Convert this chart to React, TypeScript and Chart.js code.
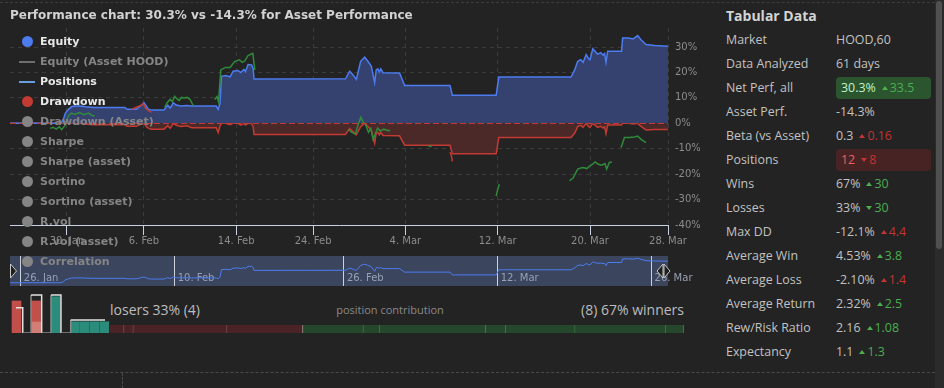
import React, { useEffect, useRef } from "react";
import { Chart, registerables } from "chart.js";

Chart.register(...registerables);

// ---------------- data ----------------
const TITLE = "Performance chart: 30.3% vs -14.3% for Asset Performance";

// x values are trading-day indexes (0 = 27 Jan, 1 unit = one session)
const X_MIN = -0.705;
const X_MAX = 42.07;
const X_TICK_POS = [3, 8, 14, 19, 25, 31, 37, 42.07];
const X_TICK_LABELS = ["30. Jan", "6. Feb", "14. Feb", "24. Feb", "4. Mar", "12. Mar", "20. Mar", "28. Mar"];
const Y_TICKS = [-40, -30, -20, -10, 0, 10, 20, 30];
const Y_MIN = -40;
const Y_MAX = 37.5;

const NAV_TICK_POS = [0, 10, 21, 31, 41];
const NAV_TICK_LABELS = ["26. Jan", "10. Feb", "26. Feb", "12. Mar", "26. Mar"];
const NAV_Y_MIN = -4.6;
const NAV_Y_MAX = 37.6;

// [trading-day index, %]
const EQUITY: [number, number][] = [
  [-0.705, 0], [2.6, 0], [2.76, 1.5], [2.9, 4.0], [3.09, 5.5], [3.3, 6.5], [3.5, 6.8], [3.84, 6.8],
  [4.2, 6.5], [4.71, 6.2], [6.77, 6.2], [6.9, 5.5], [7.52, 5.5], [7.7, 6.5], [7.9, 7.5], [8.0, 8.1],
  [8.15, 6.8], [8.3, 5.5], [8.5, 5.2], [9.3, 5.2], [9.47, 6.5], [9.55, 7.1], [9.7, 6.0], [9.8, 6.8],
  [9.9, 8.1], [10.1, 7.2], [10.4, 6.8], [10.8, 7.0], [11.1, 6.8], [12.7, 6.8], [12.83, 5.5], [12.95, 8.0],
  [13.04, 18.5], [13.3, 18.8], [13.6, 18.3], [13.8, 20.5], [14.1, 20.8], [14.3, 20.0], [14.5, 21.2],
  [14.6, 20.3], [14.77, 23.1], [15.0, 23.0], [15.1, 21.5], [15.16, 17.4], [21.1, 17.5], [21.38, 20.5],
  [21.6, 19.0], [21.81, 17.3], [22.09, 24.4], [22.35, 26.0], [22.55, 24.5], [22.78, 22.5], [23.0, 16.0],
  [23.1, 21.0], [23.21, 21.4], [23.3, 20.2], [23.4, 21.4], [23.54, 19.9], [24.62, 19.8], [24.95, 14.9],
  [27.9, 14.9], [28.05, 11.0], [30.9, 11.0], [31.07, 18.2], [35.77, 18.2], [36.0, 21.0], [36.2, 24.4],
  [36.4, 25.0], [36.55, 24.0], [36.75, 27.0], [36.9, 25.5], [37.0, 25.0], [37.18, 29.3], [37.3, 28.5],
  [37.5, 27.2], [37.7, 27.8], [37.85, 26.8], [37.95, 27.5], [38.04, 24.0], [38.15, 28.4], [39.05, 28.4],
  [39.12, 33.6], [39.5, 33.6], [39.8, 33.2], [40.1, 34.5], [40.3, 33.0], [40.64, 31.0], [41.2, 30.6],
  [42.07, 30.3],
];

const DRAWDOWN: [number, number][] = [
  [-0.705, 0], [3.84, 0], [4.2, -0.3], [4.71, -0.6], [6.77, -0.6], [6.9, -1.2], [7.52, -1.2], [7.7, -0.6],
  [8.0, 0], [8.15, -1.2], [8.3, -2.0], [8.5, -2.3], [9.3, -2.3], [9.47, -1.4], [9.55, -0.9], [9.7, -2.0],
  [9.8, -1.2], [9.9, 0], [10.1, -0.8], [10.4, -1.2], [10.8, -1.0], [11.1, -1.7], [12.7, -1.7], [12.83, -3.7],
  [12.95, -1.0], [13.04, 0], [13.3, 0], [13.6, -0.5], [13.8, 0], [14.1, 0], [14.3, -0.7], [14.5, 0],
  [14.6, -0.7], [14.77, 0], [15.0, -0.1], [15.1, -1.3], [15.16, -4.4], [21.1, -4.4], [21.38, -2.1],
  [21.6, -3.3], [21.81, -4.5], [22.09, -1.3], [22.35, 0], [22.55, -1.2], [22.78, -2.8], [23.0, -7.9],
  [23.1, -3.9], [23.21, -3.6], [23.3, -4.5], [23.4, -3.6], [23.54, -4.8], [24.62, -4.9], [24.95, -8.6],
  [27.9, -8.6], [28.05, -12.0], [30.9, -12.0], [31.07, -5.6], [35.77, -5.6], [36.0, -3.9], [36.2, -1.3],
  [36.4, -0.8], [36.55, -1.6], [36.75, 0], [36.9, -1.2], [37.0, -1.6], [37.18, 0], [37.3, -0.6],
  [37.5, -1.6], [37.7, -1.2], [37.85, -1.9], [37.95, -1.4], [38.04, -4.1], [38.15, -0.7], [39.05, -0.7],
  [39.12, 0], [39.5, 0], [39.8, -0.3], [40.1, 0], [40.3, -1.1], [40.64, -2.6], [41.2, -2.4], [42.07, -2.4],
];

// position paths; null separates positions
const POSITIONS: [number, number | null][] = [
  [1.9, -2.0], [2.1, -1.6], [2.3, -2.3], [2.5, -1.4], [2.65, -2.5], [2.85, -1.0], [3.0, 1.5], [3.1, 3.0],
  [3.3, 4.0], [3.5, 3.5], [3.8, 4.2], [4.1, 3.4], [4.4, 4.0], [4.6, 3.2], [4.8, 2.9], [4.8, null],
  [7.2, 5.5], [7.5, 6.3], [7.8, 7.0], [7.95, 7.8], [8.1, 6.0], [8.3, 5.0], [8.5, 4.3], [8.5, null],
  [9.35, 6.3], [9.5, 8.0], [9.7, 9.4], [9.85, 8.6], [10.0, 10.6], [10.15, 9.6], [10.3, 9.0], [10.45, 10.2],
  [10.6, 10.0], [10.8, 10.2], [11.0, 9.4], [11.2, 7.0], [11.2, null],
  [12.6, 9.4], [12.75, 10.5], [12.85, 8.5], [13.0, 21.0], [13.3, 22.0], [13.6, 22.0], [13.9, 24.3],
  [14.2, 25.0], [14.4, 24.0], [14.56, 24.5], [14.75, 26.5], [14.88, 27.0], [15.08, 27.5], [15.21, 21.0], [15.21, null],
  [21.3, -2.4], [21.5, -3.5], [21.75, -4.3], [21.9, -1.0], [22.1, 2.4], [22.25, 0.5], [22.4, -0.4],
  [22.6, -3.5], [22.75, -2.0], [22.9, -6.3], [23.05, -4.0], [23.2, -1.8], [23.35, -3.0], [23.6, -2.3],
  [23.9, -2.9], [24.0, -2.7], [24.0, null],
  [26.5, -8.9], [26.7, -9.1], [26.7, null],
  [27.9, -11.4], [28.0, -13.0], [28.05, -15.0], [28.05, null],
  [30.9, -28.6], [31.0, -26.0], [31.1, -24.0], [31.1, null],
  [35.66, -22.6], [35.9, -21.5], [36.2, -18.0], [36.4, -17.6], [36.57, -17.4], [36.79, -17.8], [37.0, -16.7],
  [37.15, -16.2], [37.33, -15.2], [37.54, -16.1], [37.76, -16.5], [37.97, -15.8], [38.08, -18.0],
  [38.26, -15.4], [38.42, -15.2], [38.42, null],
  [39.02, -9.5], [39.24, -5.6], [39.56, -5.6], [39.9, -5.4], [40.1, -5.0], [40.32, -6.3], [40.64, -7.6],
];
const POSITION_WON = [1, 0, 1, 1, 1, 1, 0, 1, 1, 1];

const LEGEND_LABELS = [
  "Equity", "Equity (Asset HOOD)", "Positions", "Drawdown", "Drawdown (Asset)", "Sharpe",
  "Sharpe (asset)", "Sortino", "Sortino (asset)", "R.vol", "R.vol (asset)", "Correlation",
];
const LEGEND_VISIBLE = [true, false, true, true, false, false, false, false, false, false, false, false];
const LEGEND_SYMBOL = ["circle", "line", "line", "circle", "circle", "circle", "circle", "circle", "circle", "circle", "circle", "circle"];

// histogram of position results (bin index, count units)
const HIST_BINS = [0, 2, 4, 6, 7, 8, 9];
const HIST_COUNTS = [2.76, 2.76, 3.13, 0.97, 0.97, 0.97, 0.97];
const HIST_WINNER = [0, 0, 1, 1, 1, 1, 1];
const HIST_OVERLAP = [0, 0.95, 0, 0, 0, 0, 0];
const ASSET_STEP_X = [-0.05, 0.64, 1.49, 2.58, 3.54, 4.56, 5.56, 9.08];
const ASSET_STEP_Y = [2.18, 0, 3.28, 0, 3.28, 0, 1.12, 1.12];

// position contribution
const LOSER_CONTRIB = [1.4, 0.94, 9.36, 7.6];
const WINNER_CONTRIB = [6.05, 1.61, 10.61, 2.01, 6.94, 9.04, 1.8, 0.04];
const LOSERS_TEXT = "losers 33% (4)";
const WINNERS_TEXT = "(8) 67% winners";
const CONTRIB_TITLE = "position contribution";

const TABLE_TITLE = "Tabular Data";
const TABLE_LABELS = [
  "Market", "Data Analyzed", "Net Perf, all", "Asset Perf.", "Beta (vs Asset)", "Positions", "Wins",
  "Losses", "Max DD", "Average Win", "Average Loss", "Average Return", "Rew/Risk Ratio", "Expectancy",
];
const TABLE_VALUES = ["HOOD,60", "61 days", "30.3%", "-14.3%", "0.3", "12", "67%", "33%", "-12.1%", "4.53%", "-2.10%", "2.32%", "2.16", "1.1"];
const TABLE_DELTAS = ["", "", "33.5", "", "0.16", "8", "30", "30", "4.4", "3.8", "1.4", "2.5", "1.08", "1.3"];
const TABLE_DELTA_UP = [0, 0, 1, 0, 1, 0, 1, 0, 1, 1, 1, 1, 1, 1];
const TABLE_DELTA_GOOD = [0, 0, 1, 0, 0, 0, 1, 1, 0, 1, 0, 1, 1, 1];
const TABLE_BADGE = ["", "", "good", "", "", "bad", "", "", "", "", "", "", "", ""];

// ---------------- styles ----------------
const BG = "#232323";
const BLUE = "#4c7cf0";
const BLUE_FILL = "#354270";
const RED = "#c23b32";
const RED_FILL = "#4c2929";
const GREEN = "#2f8c3b";
const GRID = "#3b3b3b";
const AXIS = "#c9d2e3";
const LABEL = "#8c8c8c";
const HC_FONT = "'DejaVu Sans', sans-serif";
const UI_FONT = "'Open Sans', sans-serif";

const zeroLine = {
  id: "zeroLine",
  afterDatasetsDraw(chart: any) {
    const { ctx, chartArea } = chart;
    const y = Math.round(chart.scales.y.getPixelForValue(0)) + 0.5;
    ctx.save();
    ctx.strokeStyle = RED;
    ctx.lineWidth = 1;
    ctx.setLineDash([6, 3]);
    ctx.beginPath();
    ctx.moveTo(chartArea.left, y);
    ctx.lineTo(chartArea.right, y);
    ctx.stroke();
    ctx.restore();
  },
};

const navigatorDeco = {
  id: "navigatorDeco",
  beforeDraw(chart: any) {
    const { ctx, chartArea } = chart;
    ctx.save();
    ctx.fillStyle = "#3b455d";
    ctx.fillRect(chartArea.left, chartArea.top, chartArea.right - chartArea.left, chartArea.bottom - chartArea.top);
    ctx.restore();
  },
  beforeDatasetsDraw(chart: any) {
    const { ctx, chartArea } = chart;
    const xs = chart.scales.x;
    ctx.save();
    ctx.fillStyle = "#98a0b3";
    ctx.font = `10px ${HC_FONT}`;
    ctx.textBaseline = "middle";
    ctx.textAlign = "left";
    NAV_TICK_POS.forEach((p, i) => {
      ctx.fillText(NAV_TICK_LABELS[i], xs.getPixelForValue(p) + 3, chartArea.bottom - 7.5);
    });
    ctx.restore();
  },
  afterDraw(chart: any) {
    const { ctx, chartArea } = chart;
    const mid = (chartArea.top + chartArea.bottom) / 2;
    const tri = (x0: number, dir: number) => {
      ctx.beginPath();
      ctx.moveTo(x0, mid - 7);
      ctx.lineTo(x0 + dir * 6, mid);
      ctx.lineTo(x0, mid + 7);
      ctx.closePath();
      ctx.fill();
      ctx.stroke();
    };
    ctx.save();
    ctx.fillStyle = "#1e1e1e";
    ctx.strokeStyle = "#c8c8c8";
    ctx.lineWidth = 1;
    tri(chartArea.left + 0.5, 1);
    tri(chartArea.right - 5, -1);
    tri(chartArea.right - 4, 1);
    ctx.restore();
  },
};

function segmentOfPoint(): number[] {
  const out: number[] = [];
  let s = 0;
  POSITIONS.forEach((p) => {
    out.push(s);
    if (p[1] === null) s++;
  });
  return out;
}

function MainChart() {
  const ref = useRef<HTMLCanvasElement>(null);
  useEffect(() => {
    const segOf = segmentOfPoint();
    const chart = new Chart(ref.current!, {
      type: "line",
      data: {
        datasets: [
          {
            label: "Positions",
            data: POSITIONS.map(([x, y]) => ({ x, y })),
            borderColor: GREEN,
            borderWidth: 1.5,
            pointRadius: 0,
            fill: false,
            spanGaps: false,
            order: 0,
            segment: {
              borderColor: (c: any) => (POSITION_WON[segOf[c.p0DataIndex]] ? GREEN : RED),
            },
          } as any,
          {
            label: "Equity",
            data: EQUITY.map(([x, y]) => ({ x, y })),
            borderColor: BLUE,
            backgroundColor: BLUE_FILL,
            borderWidth: 1.5,
            pointRadius: 0,
            fill: "origin",
            order: 1,
          },
          {
            label: "Drawdown",
            data: DRAWDOWN.map(([x, y]) => ({ x, y })),
            borderColor: RED,
            backgroundColor: RED_FILL,
            borderWidth: 1.5,
            pointRadius: 0,
            fill: "origin",
            order: 2,
          },
        ],
      },
      options: {
        responsive: false,
        animation: false,
        devicePixelRatio: 1,
        layout: { padding: { left: 10, right: 0, top: 0, bottom: 0 } },
        plugins: {
          legend: { display: false },
          tooltip: { enabled: false },
          title: {
            display: true,
            text: TITLE,
            align: "start",
            color: "#d2d2d2",
            font: { family: HC_FONT, size: 12, weight: "bold" },
            padding: { top: 9, bottom: 4.6 },
          },
        },
        scales: {
          x: {
            type: "linear",
            min: X_MIN,
            max: X_MAX,
            afterBuildTicks: (s: any) => {
              s.ticks = X_TICK_POS.map((v) => ({ value: v }));
            },
            afterFit: (s: any) => {
              s.height = 25;
            },
            ticks: {
              autoSkip: false,
              maxRotation: 0,
              color: LABEL,
              padding: 0,
              font: { family: HC_FONT, size: 10 },
              callback: (_v: any, i: number) => X_TICK_LABELS[i],
            },
            grid: { color: GRID, tickColor: AXIS, tickLength: 10, drawTicks: true },
            border: { display: true, color: AXIS, dash: [4, 4] },
          },
          y: {
            type: "linear",
            position: "right",
            min: Y_MIN,
            max: Y_MAX,
            afterBuildTicks: (s: any) => {
              s.ticks = Y_TICKS.map((v) => ({ value: v }));
            },
            afterFit: (s: any) => {
              s.width = 32;
            },
            ticks: {
              color: LABEL,
              padding: 7,
              font: { family: HC_FONT, size: 10 },
              callback: (v: any) => `${v}%`,
            },
            grid: { color: GRID, drawTicks: false },
            border: { display: false, dash: [4, 4] },
          },
        },
      } as any,
      plugins: [zeroLine],
    });
    return () => chart.destroy();
  }, []);
  return <canvas ref={ref} width={700} height={250} style={{ position: "absolute", left: 0, top: 0 }} />;
}

function NavigatorChart() {
  const ref = useRef<HTMLCanvasElement>(null);
  useEffect(() => {
    const chart = new Chart(ref.current!, {
      type: "line",
      data: {
        datasets: [
          {
            label: "Equity",
            data: EQUITY.map(([x, y]) => ({ x, y })),
            borderColor: BLUE,
            borderWidth: 1,
            pointRadius: 0,
            fill: false,
          },
        ],
      },
      options: {
        responsive: false,
        animation: false,
        devicePixelRatio: 1,
        layout: { padding: { left: 10, right: 32, top: 0, bottom: 0 } },
        plugins: { legend: { display: false }, tooltip: { enabled: false } },
        scales: {
          x: {
            type: "linear",
            min: X_MIN,
            max: X_MAX,
            afterBuildTicks: (s: any) => {
              s.ticks = NAV_TICK_POS.map((v) => ({ value: v }));
            },
            afterFit: (s: any) => {
              s.height = 0;
            },
            ticks: { display: false },
            grid: { color: "rgba(232,234,240,0.85)", drawTicks: false },
            border: { display: false },
          },
          y: { display: false, min: NAV_Y_MIN, max: NAV_Y_MAX },
        },
      } as any,
      plugins: [navigatorDeco],
    });
    return () => chart.destroy();
  }, []);
  return <canvas ref={ref} width={700} height={30} style={{ position: "absolute", left: 0, top: 256 }} />;
}

function HistogramChart() {
  const ref = useRef<HTMLCanvasElement>(null);
  useEffect(() => {
    const chart = new Chart(ref.current!, {
      type: "bar",
      data: {
        datasets: [
          {
            type: "line",
            label: "Asset distribution",
            data: ASSET_STEP_X.map((x, i) => ({ x, y: ASSET_STEP_Y[i] })),
            stepped: true,
            borderColor: "#e2e2e2",
            borderWidth: 1.5,
            pointRadius: 0,
            fill: false,
            order: 0,
            segment: {
              borderColor: (c: any) => (c.p0.parsed.y === 0 ? "#8a8a8a" : "#e2e2e2"),
            },
          } as any,
          {
            type: "bar",
            label: "Overlap",
            data: HIST_BINS.map((x, i) => ({ x, y: HIST_OVERLAP[i] || null })),
            backgroundColor: "#d07e76",
            barThickness: 9,
            grouped: false,
            order: 1,
          },
          {
            type: "bar",
            label: "Positions",
            data: HIST_BINS.map((x, i) => ({ x, y: HIST_COUNTS[i] })),
            backgroundColor: HIST_WINNER.map((w) => (w ? "#2b8c7b" : "#c24f4a")),
            barThickness: 9,
            grouped: false,
            order: 2,
          },
        ],
      },
      options: {
        responsive: false,
        animation: false,
        devicePixelRatio: 1,
        layout: { padding: 0 },
        plugins: { legend: { display: false }, tooltip: { enabled: false } },
        scales: {
          x: { type: "linear", display: false, min: -0.667, max: 9.59, offset: false },
          y: { display: false, min: 0, max: 3.79 },
        },
      } as any,
    });
    return () => chart.destroy();
  }, []);
  return <canvas ref={ref} width={100} height={44} style={{ position: "absolute", left: 10, top: 289 }} />;
}

function ContributionChart() {
  const ref = useRef<HTMLCanvasElement>(null);
  useEffect(() => {
    const total = [...LOSER_CONTRIB, ...WINNER_CONTRIB].reduce((a, b) => a + b, 0);
    const datasets: any[] = [
      ...LOSER_CONTRIB.map((v, i) => ({
        label: `Loser ${i + 1}`,
        data: [v],
        backgroundColor: "#4a2327",
        borderColor: i === LOSER_CONTRIB.length - 1 ? "#9a9a9a" : "#7a4d50",
        borderWidth: { left: 0, right: 1, top: 0, bottom: 0 },
        borderSkipped: false,
      })),
      ...WINNER_CONTRIB.map((v, i) => ({
        label: `Winner ${i + 1}`,
        data: [v],
        backgroundColor: "#25472b",
        borderColor: "#3f7d47",
        borderWidth: { left: 0, right: i === WINNER_CONTRIB.length - 1 ? 0 : 1, top: 0, bottom: 0 },
        borderSkipped: false,
      })),
    ];
    const chart = new Chart(ref.current!, {
      type: "bar",
      data: { labels: ["contribution"], datasets },
      options: {
        indexAxis: "y",
        responsive: false,
        animation: false,
        devicePixelRatio: 1,
        layout: { padding: 0 },
        datasets: { bar: { barPercentage: 1, categoryPercentage: 1 } },
        plugins: { legend: { display: false }, tooltip: { enabled: false } },
        scales: {
          x: { stacked: true, display: false, min: 0, max: total },
          y: { stacked: true, display: false },
        },
      } as any,
    });
    return () => chart.destroy();
  }, []);
  return <canvas ref={ref} width={574} height={8} style={{ position: "absolute", left: 110, top: 325 }} />;
}

function Legend() {
  return (
    <div style={{ position: "absolute", left: 0, top: 0, zIndex: 5, pointerEvents: "none" }}>
      {LEGEND_LABELS.map((label, i) => {
        const visible = LEGEND_VISIBLE[i];
        const cy = 41.7 + 20 * i;
        let color = "#858585";
        if (visible) color = i === 0 ? BLUE : i === 2 ? "#6a9de0" : RED;
        return (
          <div key={label} style={{ position: "absolute", left: 0, top: cy - 8, height: 16, width: 220 }}>
            {LEGEND_SYMBOL[i] === "circle" ? (
              <div style={{ position: "absolute", left: 21.5, top: 2.5, width: 11, height: 11, borderRadius: "50%", background: color }} />
            ) : (
              <div style={{ position: "absolute", left: 19, top: 7, width: 16, height: 2, background: visible ? color : "#6e6e6e" }} />
            )}
            <div
              style={{
                position: "absolute",
                left: 40,
                top: 0,
                lineHeight: "16px",
                fontFamily: HC_FONT,
                fontWeight: "bold",
                fontSize: 11,
                whiteSpace: "nowrap",
                color: visible ? "#e8e8e8" : "#858585",
              }}
            >
              {label}
            </div>
          </div>
        );
      })}
    </div>
  );
}

function Triangle({ up, color }: { up: boolean; color: string }) {
  return (
    <span
      style={{
        display: "inline-block",
        width: 0,
        height: 0,
        borderLeft: "3px solid transparent",
        borderRight: "3px solid transparent",
        borderBottom: up ? `4px solid ${color}` : "none",
        borderTop: up ? "none" : `4px solid ${color}`,
        marginRight: 2,
        verticalAlign: "middle",
        position: "relative",
        top: -1,
      }}
    />
  );
}

function Table() {
  return (
    <div style={{ position: "absolute", left: 726, top: 0, width: 210, fontFamily: UI_FONT, color: "#c2c2c2" }}>
      <div style={{ position: "absolute", left: 0, top: 6, fontSize: 14, fontWeight: "bold", lineHeight: "20px", color: "#d4d4d4", whiteSpace: "nowrap" }}>
        {TABLE_TITLE}
      </div>
      {TABLE_LABELS.map((label, i) => {
        const cy = 40 + 24.0 * i;
        const badge = TABLE_BADGE[i];
        const good = TABLE_DELTA_GOOD[i] === 1;
        const dColor = good ? "#4cae50" : "#c43434";
        let valueColor = "#c2c2c2";
        if (badge === "good") valueColor = "#c6f2c6";
        if (badge === "bad") valueColor = "#f06262";
        return (
          <div key={label} style={{ position: "absolute", left: 0, top: cy - 11, height: 22, width: 210, fontSize: 12.4, lineHeight: "22px", whiteSpace: "nowrap" }}>
            <div style={{ position: "absolute", left: 0, top: 0 }}>{label}</div>
            {badge && (
              <div
                style={{
                  position: "absolute",
                  left: 110,
                  top: 0,
                  width: 95,
                  height: 22,
                  borderRadius: 4,
                  background: badge === "good" ? "#2a552e" : "#472323",
                }}
              />
            )}
            <div style={{ position: "absolute", left: badge ? 115 : 110, top: 0, color: valueColor }}>
              {TABLE_VALUES[i]}
              {TABLE_DELTAS[i] && (
                <span style={{ marginLeft: 6, color: dColor }}>
                  <Triangle up={TABLE_DELTA_UP[i] === 1} color={dColor} />
                  {TABLE_DELTAS[i]}
                </span>
              )}
            </div>
          </div>
        );
      })}
    </div>
  );
}

export default function App() {
  useEffect(() => {
    document.body.style.margin = "0";
    document.body.style.background = BG;
  }, []);
  return (
    <div style={{ position: "relative", width: 944, height: 388, background: BG, overflow: "hidden" }}>
      <div style={{ position: "absolute", left: 0, top: 2, width: 935, borderTop: "1px dashed #3d3d3d" }} />
      <MainChart />
      <NavigatorChart />
      <HistogramChart />
      <ContributionChart />
      <div style={{ position: "absolute", left: 110, top: 300, fontFamily: UI_FONT, fontSize: 14, lineHeight: "20px", color: "#bdbdbd", whiteSpace: "nowrap" }}>
        {LOSERS_TEXT}
      </div>
      <div style={{ position: "absolute", left: 290, width: 200, textAlign: "center", top: 302, fontFamily: UI_FONT, fontSize: 11, lineHeight: "16px", color: "#8a8a8a", whiteSpace: "nowrap" }}>
        {CONTRIB_TITLE}
      </div>
      <div style={{ position: "absolute", right: 944 - 684, top: 300, fontFamily: UI_FONT, fontSize: 14, lineHeight: "20px", color: "#bdbdbd", whiteSpace: "nowrap" }}>
        {WINNERS_TEXT}
      </div>
      <Legend />
      <Table />
      <div style={{ position: "absolute", left: 0, top: 372, width: 935, borderTop: "1px dashed #4a4a4a" }} />
      <div style={{ position: "absolute", left: 122, top: 373, height: 15, borderLeft: "1px dashed #4a4a4a" }} />
      <div style={{ position: "absolute", left: 935, top: 0, width: 9, height: 388, background: "#2b2b2b" }} />
      <div style={{ position: "absolute", left: 936, top: 1, width: 6, height: 248, background: "#505050", borderRadius: 3 }} />
    </div>
  );
}
